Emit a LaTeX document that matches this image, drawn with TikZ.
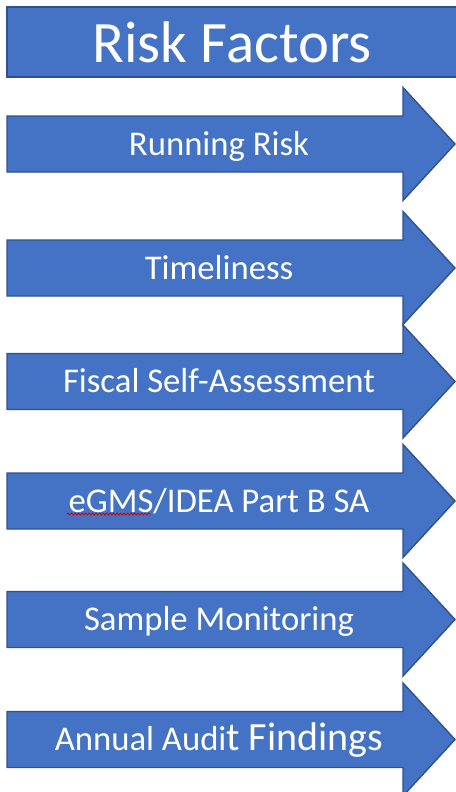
\documentclass[tikz,border=0pt]{standalone}
\usepackage{fontspec}
\setmainfont{Carlito}
\usetikzlibrary{decorations.pathmorphing}
\definecolor{riskblue}{HTML}{4472C4}
\definecolor{riskedge}{HTML}{2F528F}
\tikzset{
  every picture/.style={line join=miter, line cap=butt},
  bluebox/.style={fill=riskblue, draw=riskedge, line width=1.4pt},
  boxtext/.style={text=white, anchor=base, inner sep=0pt, font=\fontsize{34.7}{36}\selectfont},
  titletext/.style={text=white, anchor=base, inner sep=0pt, font=\fontsize{58.7}{60}\selectfont},
}
\newcommand{\headx}{403}
\newcommand{\tipx}{455}

\begin{document}
\begin{tikzpicture}[x=1pt,y=-1pt]
\useasboundingbox (0,0) rectangle (455,792);
% heading bar
\draw[bluebox] (7,7) rectangle (460,77);
\node[titletext] (title) at (232,63) {Risk Factors};
% one arrow per factor
\foreach \c/\nm/\txt in {144/running/{Running Risk},
                         268/timely/{Timeliness},
                         381.5/fiscal/{Fiscal Self-Assessment},
                         501/egms/{eGMS/IDEA Part B SA},
                         619.5/sample/{Sample Monitoring},
                         739.5/audit/{{\fontsize{34.7}{36}\selectfont Annual Audi}{\fontsize{40}{42}\selectfont t Findings}}}{
  \draw[bluebox] (7,\c-28) -- (\headx,\c-28) -- (\headx,\c-56.5) -- (\tipx,\c)
    -- (\headx,\c+56.5) -- (\headx,\c+28) -- (7,\c+28) -- cycle;
  \node[boxtext] (\nm) at (219,\c+11) {\txt};
}
% spell-check mark under eGMS
\draw[red!85!black, line width=0.8pt, decorate,
  decoration={snake, amplitude=1pt, segment length=3.5pt}] (67,514) -- (151,514);
\end{tikzpicture}
\end{document}
